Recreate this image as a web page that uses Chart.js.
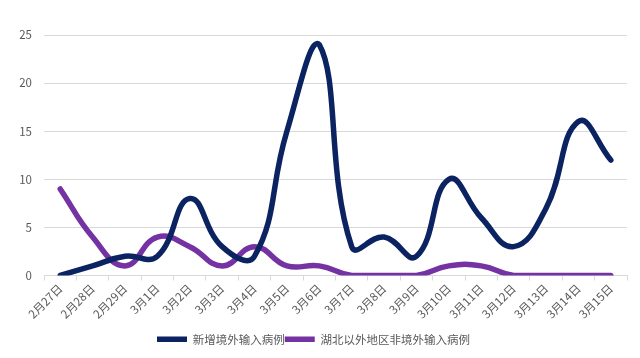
<!DOCTYPE html>
<html>
<head>
<meta charset="utf-8">
<script src="https://cdn.jsdelivr.net/npm/chart.js@4"></script>
<style>
html,body{margin:0;padding:0;background:#fff;}
#wrap{width:640px;height:358px;}
</style>
</head>
<body>
<div id="wrap"><canvas id="c" width="640" height="358"></canvas></div>
<script>
const categories = ["2月27日","2月28日","2月29日","3月1日","3月2日","3月3日","3月4日","3月5日","3月6日","3月7日","3月8日","3月9日","3月10日","3月11日","3月12日","3月13日","3月14日","3月15日"];
const importedCases = [0,1,2,2,8,3,2,15,24,3,4,2,10,6,3,7,16,12];
const outsideHubeiLocal = [9,4,1,4,3,1,3,1,1,0,0,0,1,1,0,0,0,0];
const seriesNames = ["新增境外输入病例","湖北以外地区非境外输入病例"];
const yTicks = [0,5,10,15,20,25];

const FONT = "'Noto Sans CJK SC', 'Noto Sans', sans-serif";
Chart.defaults.font.family = FONT;
Chart.defaults.color = '#595959';

new Chart(document.getElementById('c'), {
  type: 'line',
  data: {
    labels: categories,
    datasets: [
      {label: seriesNames[0], data: importedCases, borderColor: '#0c2362', backgroundColor: '#0c2362',
       borderWidth: 5.5, tension: 0.45, pointRadius: 0, borderCapStyle: 'round', borderJoinStyle: 'round', fill: false},
      {label: seriesNames[1], data: outsideHubeiLocal, borderColor: '#7532a2', backgroundColor: '#7532a2',
       borderWidth: 5.5, tension: 0.45, pointRadius: 0, borderCapStyle: 'round', borderJoinStyle: 'round', fill: false}
    ]
  },
  options: {
    responsive: false,
    animation: false,
    layout: {padding: {left: 0, right: 13, top: 35, bottom: 3}},
    plugins: {
      legend: {
        position: 'bottom',
        labels: {
          usePointStyle: true,
          pointStyle: 'line',
          pointStyleWidth: 30,
          boxHeight: 5,
          padding: 0,
          color: '#595959',
          font: {size: 11.5, family: FONT}
        }
      },
      tooltip: {enabled: false}
    },
    scales: {
      x: {
        offset: true,
        grid: {offset: true, drawOnChartArea: false, drawTicks: true, tickLength: 5, color: '#d9d9d9'},
        border: {color: '#d9d9d9'},
        ticks: {minRotation: 45, maxRotation: 45, autoSkip: false, padding: 1, color: '#595959', font: {size: 11.5, family: FONT}},
        afterFit: s => { s.height = 58; }
      },
      y: {
        min: 0, max: 25,
        afterBuildTicks: s => { s.ticks = yTicks.map(v => ({value: v})); },
        grid: {color: '#d9d9d9', drawTicks: false, lineWidth: 1},
        border: {display: false},
        ticks: {padding: 12, color: '#595959', font: {size: 11.5, family: FONT}},
        afterFit: s => { s.width = 44; }
      }
    }
  }
});
</script>
</body>
</html>
